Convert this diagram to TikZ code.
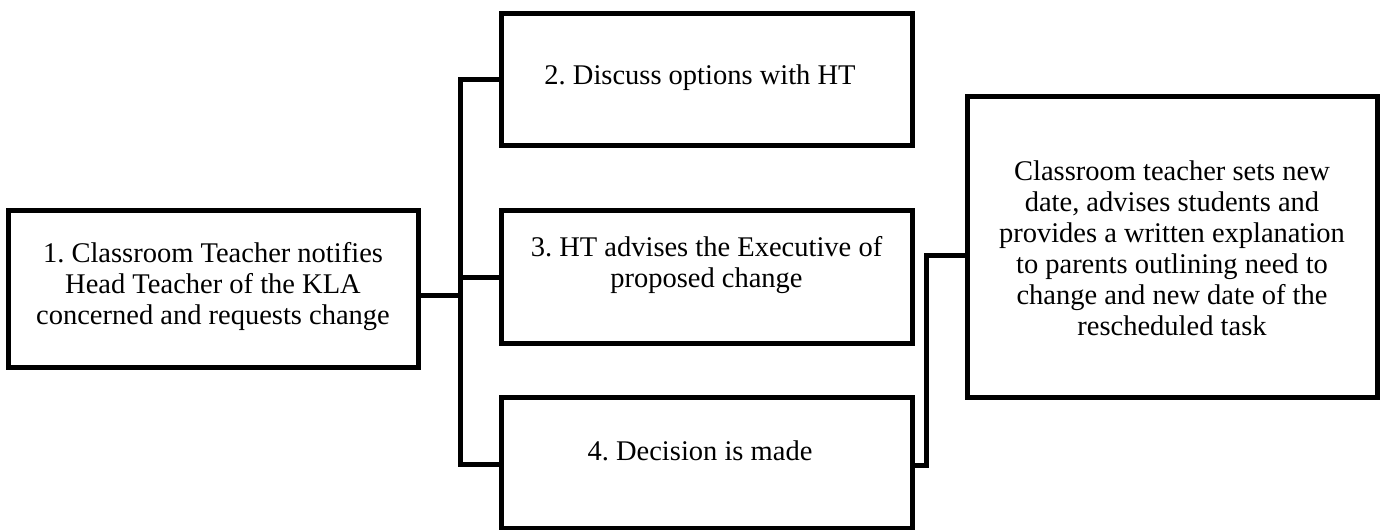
\documentclass[tikz,border=0pt]{standalone}
\usepackage{fontspec}
\setmainfont{Liberation Serif}
\frenchspacing
\begin{document}
\begin{tikzpicture}[x=1pt,y=-1pt,
  box/.style={draw=black,line width=5pt,line join=miter,inner sep=0pt,rectangle},
  txt/.style={align=center,inner sep=0pt,font=\fontsize{28.5}{31}\selectfont},
  conn/.style={draw=black,line width=5pt,line join=miter,line cap=rect}]
\useasboundingbox (0,0) rectangle (1382,530);
% boxes
\node[box,minimum width=410pt,minimum height=157pt] (b1) at (213,288.5) {};
\node[box,minimum width=411pt,minimum height=132pt] (b2) at (706.5,79) {};
\node[box,minimum width=411pt,minimum height=133pt] (b3) at (706.5,276.5) {};
\node[box,minimum width=411pt,minimum height=131pt] (b4) at (706.5,462.5) {};
\node[box,minimum width=410pt,minimum height=301pt] (b5) at (1172,246.5) {};
% texts
\node[txt] (t1) at (213,287) {1. Classroom Teacher notifies\\Head Teacher of the KLA\\concerned and requests change};
\node[txt] (t2) at (700,78) {2. Discuss options with HT};
\node[txt] (t3) at (706.5,265.5) {3. HT advises the Executive of\\proposed change};
\node[txt] (t4) at (700,451) {4. Decision is made};
\node[txt] (t5) at (1172,248) {Classroom teacher sets new\\date, advises students and\\provides a written explanation\\to parents outlining need to\\change and new date of the\\rescheduled task};
% junction points
\coordinate (busTop) at (460.5,79);
\coordinate (j1) at (460.5,295.5);
\coordinate (j3) at (460.5,277.5);
\coordinate (busBot) at (460.5,464);
\coordinate (r1) at (926,465);
\coordinate (r2) at (926,255);
% connectors
\draw[conn] (b2.west |- busTop) -- (busTop) -- (busBot) -- (b4.west |- busBot);
\draw[conn] (b1.east |- j1) -- (j1);
\draw[conn] (j3) -- (b3.west |- j3);
\draw[conn] (b4.east |- r1) -- (r1) -- (r2) -- (b5.west |- r2);
\end{tikzpicture}
\end{document}
